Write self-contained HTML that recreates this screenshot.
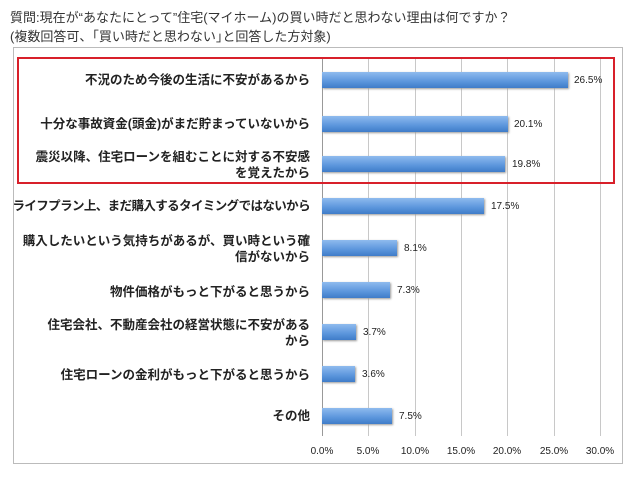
<!DOCTYPE html>
<html><head><meta charset="utf-8"><style>
body{margin:0;width:640px;height:478px;background:#fff;font-family:"Liberation Sans","Noto Sans CJK JP",sans-serif;position:relative;overflow:hidden}
.t{position:absolute;left:10px;font-size:13px;color:#333;white-space:nowrap}
.box{position:absolute;left:13px;top:47px;width:608px;height:415px;border:1px solid #bbb}
.lab{position:absolute;right:330px;width:300px;text-align:right;font-size:12.5px;font-weight:bold;color:#222;line-height:16px}
.bar{position:absolute;left:322px;height:16px;background:linear-gradient(#8fbbee,#5b95dc 60%,#3f7cc8);box-shadow:1px 1px 2px #999}
.val{position:absolute;font-size:10px;color:#222}
.g{position:absolute;top:58px;height:378px;width:1px;background:#c8c8c8}
.tk{position:absolute;top:446px;font-size:10px;color:#222;width:40px;text-align:center}
.red{position:absolute;left:17px;top:57px;width:594px;height:123px;border:2px solid #d8202a}
</style></head><body>
<div class="t" style="top:7px">質問:現在が“あなたにとって”住宅(マイホーム)の買い時だと思わない理由は何ですか？</div>
<div class="t" style="top:26px">(複数回答可、｢買い時だと思わない｣と回答した方対象)</div>
<div class="box"></div>
<div class="g" style="left:322px;background:#999"></div>
<div class="g" style="left:368px"></div><div class="g" style="left:415px"></div><div class="g" style="left:461px"></div><div class="g" style="left:507px"></div><div class="g" style="left:554px"></div><div class="g" style="left:600px"></div>
<div class="red"></div>

<div class="lab" style="top:72px">不況のため今後の生活に不安があるから</div>
<div class="bar" style="top:72px;width:246px"></div><div class="val" style="left:574px;top:75px">26.5%</div>

<div class="lab" style="top:116px">十分な事故資金(頭金)がまだ貯まっていないから</div>
<div class="bar" style="top:116px;width:186px"></div><div class="val" style="left:514px;top:119px">20.1%</div>

<div class="lab" style="top:149px">震災以降、住宅ローンを組むことに対する不安感<br>を覚えたから</div>
<div class="bar" style="top:156px;width:183px"></div><div class="val" style="left:512px;top:159px">19.8%</div>

<div class="lab" style="top:198px;width:330px;white-space:nowrap;letter-spacing:-0.6px">ライフプラン上、まだ購入するタイミングではないから</div>
<div class="bar" style="top:198px;width:162px"></div><div class="val" style="left:491px;top:201px">17.5%</div>

<div class="lab" style="top:233px">購入したいという気持ちがあるが、買い時という確<br>信がないから</div>
<div class="bar" style="top:240px;width:75px"></div><div class="val" style="left:404px;top:243px">8.1%</div>

<div class="lab" style="top:284px">物件価格がもっと下がると思うから</div>
<div class="bar" style="top:282px;width:68px"></div><div class="val" style="left:397px;top:285px">7.3%</div>

<div class="lab" style="top:317px">住宅会社、不動産会社の経営状態に不安がある<br>から</div>
<div class="bar" style="top:324px;width:34px"></div><div class="val" style="left:363px;top:327px">3.7%</div>

<div class="lab" style="top:367px">住宅ローンの金利がもっと下がると思うから</div>
<div class="bar" style="top:366px;width:33px"></div><div class="val" style="left:362px;top:369px">3.6%</div>

<div class="lab" style="top:408px">その他</div>
<div class="bar" style="top:408px;width:70px"></div><div class="val" style="left:399px;top:411px">7.5%</div>

<div class="tk" style="left:302px">0.0%</div><div class="tk" style="left:348px">5.0%</div><div class="tk" style="left:395px">10.0%</div><div class="tk" style="left:441px">15.0%</div><div class="tk" style="left:487px">20.0%</div><div class="tk" style="left:534px">25.0%</div><div class="tk" style="left:580px">30.0%</div>
</body></html>
